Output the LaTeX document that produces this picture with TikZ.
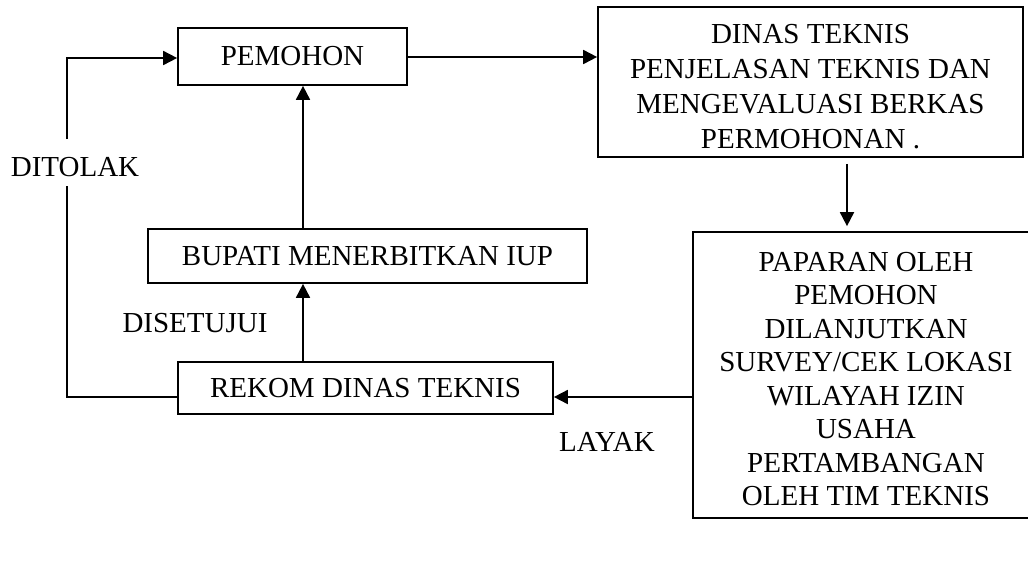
\documentclass[tikz,border=0pt]{standalone}
\usepackage{fontspec}
\setmainfont{Liberation Serif}
\usetikzlibrary{arrows.meta,calc}
\begin{document}
\begin{tikzpicture}[x=1pt,y=-1pt,
  box/.style={draw,line width=1.7pt,rectangle,inner sep=0pt,align=center,font=\fontsize{29}{35}\selectfont},
  lbl/.style={inner sep=0pt,font=\fontsize{29}{35}\selectfont},
  arr/.style={line width=1.8pt,-{Triangle[length=14pt,width=14pt]}},
  ln/.style={line width=1.8pt}]
\useasboundingbox (0,0) rectangle (1028,566);
\clip (0,0) rectangle (1028,566);
\node[box,minimum width=229pt,minimum height=57pt] (pemohon) at (292.5,56.5) {PEMOHON};
\node[box,minimum width=425pt,minimum height=150pt] (dinas) at (810.5,82) {\rule{0pt}{29pt}DINAS TEKNIS\\PENJELASAN TEKNIS DAN\\MENGEVALUASI BERKAS\\PERMOHONAN .};
\node[box,minimum width=346pt,minimum height=286pt,font=\fontsize{29}{33.5}\selectfont] (paparan) at (866,375) {\rule{0pt}{27pt}PAPARAN OLEH\\PEMOHON\\DILANJUTKAN\\SURVEY/CEK LOKASI\\WILAYAH IZIN\\USAHA\\PERTAMBANGAN\\OLEH TIM TEKNIS};
\node[box,minimum width=439pt,minimum height=54pt] (bupati) at (367.5,256) {BUPATI MENERBITKAN IUP};
\node[box,minimum width=375pt,minimum height=52pt] (rekom) at (365.5,388) {REKOM DINAS TEKNIS};
\node[lbl] (ditolak) at (75,167) {DITOLAK};
\node[lbl] (disetujui) at (195,323) {DISETUJUI};
\node[lbl] (layak) at (607,442) {LAYAK};
\coordinate (dx) at (847,0);
\coordinate (vx) at (303,0);
\coordinate (lx) at (67,0);
\coordinate (ry) at (0,397);
\coordinate (ty) at (0,58);
\coordinate (py) at (0,57);
\draw[arr] (pemohon.east |- py) -- (dinas.west |- py);
\draw[arr,shorten <=6pt,shorten >=5pt] (dinas.south -| dx) -- (paparan.north -| dx);
\draw[arr] (paparan.west |- ry) -- (rekom.east |- ry);
\draw[arr] (rekom.north -| vx) -- (bupati.south -| vx);
\draw[arr] (bupati.north -| vx) -- (pemohon.south -| vx);
\draw[ln] (rekom.west |- ry) -- (lx |- ry) -- ($(lx |- ditolak.center)+(0,19)$);
\draw[arr] ($(lx |- ditolak.center)+(0,-28)$) -- (lx |- ty) -- (pemohon.west |- ty);
\end{tikzpicture}
\end{document}
